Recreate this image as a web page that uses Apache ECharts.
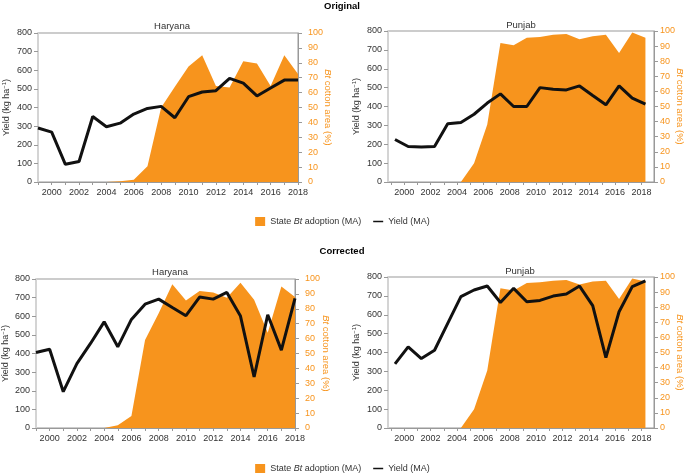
<!DOCTYPE html>
<html>
<head>
<meta charset="utf-8">
<script src="https://cdn.jsdelivr.net/npm/echarts@6/dist/echarts.min.js"></script>
<style>
  html, body { margin: 0; padding: 0; background: #fff; }
  #chart { width: 685px; height: 474px; }
</style>
</head>
<body>
<div id="chart"></div>
<script>
const years = [1999, 2000, 2001, 2002, 2003, 2004, 2005, 2006, 2007, 2008,
               2009, 2010, 2011, 2012, 2013, 2014, 2015, 2016, 2017, 2018];
const evenYears = [2000, 2002, 2004, 2006, 2008, 2010, 2012, 2014, 2016, 2018];

// Original
const harOrigYield = [290, 268, 95, 110, 352, 297, 316, 365, 395, 406, 345, 458, 483, 490, 556, 531, 462, 505, 547, 547];
const harOrigBt = [0, 0, 0, 0, 0, 0, 0.5, 1.5, 10.5, 50, 64, 77.5, 85, 64.5, 63.5, 81, 79.5, 64.5, 85, 72.5];
const punOrigYield = [225, 188, 185, 188, 308, 315, 359, 418, 467, 400, 400, 500, 491, 488, 509, 458, 409, 509, 444, 412];
const punOrigBt = [0, 0, 0, 0, 0, 0, 12.5, 38, 92, 90.5, 95.5, 96, 97.5, 98, 94.5, 96.5, 97.5, 85.5, 99, 95.5];

// Corrected
const harCorrYield = [405, 423, 195, 346, 454, 570, 436, 583, 665, 692, 647, 603, 703, 692, 728, 601, 274, 608, 418, 696];
const harCorrBt = [0, 0, 0, 0, 0, 0, 1.8, 8, 59, 77, 96.5, 85.5, 92, 91, 87.5, 97.5, 86, 64, 95, 88];
const punCorrYield = [340, 430, 368, 412, 554, 696, 731, 752, 665, 740, 669, 676, 699, 710, 752, 648, 373, 616, 749, 780];
const punCorrBt = [0, 0, 0, 0, 0, 0, 12.5, 38, 92.5, 91, 96, 96.5, 97.5, 98, 95, 97, 97.5, 85.5, 99, 97];

// Punjab values sit a little after the year tick
const punjabShift = 0.3;

const ORANGE = '#f7941d';
const FONT = 'Liberation Sans';

const grids = [
    { left: 38, top: 33, width: 260, height: 149 },
    { left: 388, top: 31, width: 266, height: 151 },
    { left: 36, top: 279, width: 259, height: 149 },
    { left: 388, top: 277, width: 266, height: 151 },
];
const xRanges = [[1999, 2018], [1998.77, 2018.95], [1999, 2018], [1998.77, 2018.95]];
const rightLabelMargin = [10, 6, 10, 6];
const rightNameGap = [25, 21, 26, 21];
const leftNameGap = [25, 25, 24, 25];

function pairs(vals, shift) {
    return years.map((y, i) => [y + shift, vals[i]]);
}

const chart = echarts.init(document.getElementById('chart'), null, { renderer: 'canvas' });

const xAxis = grids.map((g, i) => ({
    type: 'value',
    gridIndex: i,
    min: xRanges[i][0],
    max: xRanges[i][1],
    axisLine: { lineStyle: { color: '#999', width: 1 } },
    axisTick: { length: 3, lineStyle: { color: '#999' }, customValues: years },
    axisLabel: {
        customValues: evenYears,
        formatter: (v) => String(v),
        color: '#333', fontSize: 9, fontFamily: FONT, margin: 6,
    },
    splitLine: { show: false },
}));

const yAxis = [];
grids.forEach((g, i) => {
    yAxis.push({
        type: 'value',
        gridIndex: i,
        position: 'left',
        min: 0,
        max: 800,
        interval: 100,
        name: '{n|Yield (kg ha}{s|−1}{n|)}',
        nameLocation: 'middle',
        nameRotate: 90,
        nameGap: leftNameGap[i],
        nameMoveOverlap: false,
        nameTextStyle: {
            color: '#333',
            fontFamily: FONT,
            fontSize: 9,
            rich: {
                n: { fontSize: 9, lineHeight: 12, fontFamily: FONT, color: '#333' },
                s: { fontSize: 6, verticalAlign: 'top', fontFamily: FONT, color: '#333' },
            },
        },
        axisLine: { show: true, lineStyle: { color: '#d4d4d4', width: 2 } },
        axisTick: { show: true, length: 4, lineStyle: { color: '#999' } },
        axisLabel: { color: '#333', fontSize: 9, fontFamily: FONT, margin: 6 },
        splitLine: { show: false },
    });
    yAxis.push({
        type: 'value',
        gridIndex: i,
        position: 'right',
        min: 0,
        max: 100,
        interval: 10,
        name: '{i|Bt}{n| cotton area (%)}',
        nameLocation: 'middle',
        nameRotate: -90,
        nameGap: rightNameGap[i],
        nameMoveOverlap: false,
        nameTextStyle: {
            color: ORANGE,
            fontFamily: FONT,
            fontSize: 9.5,
            rich: {
                i: { fontSize: 9.5, fontStyle: 'italic', fontFamily: FONT, color: ORANGE },
                n: { fontSize: 9.5, fontFamily: FONT, color: ORANGE },
            },
        },
        axisLine: { show: true, lineStyle: { color: '#999', width: 1 } },
        axisTick: { show: true, length: 4, lineStyle: { color: '#999' } },
        axisLabel: { color: ORANGE, fontSize: 9, fontFamily: FONT, margin: rightLabelMargin[i] },
        splitLine: { show: false },
    });
});

const panels = [
    { bt: harOrigBt, yld: harOrigYield, shift: 0 },
    { bt: punOrigBt, yld: punOrigYield, shift: punjabShift },
    { bt: harCorrBt, yld: harCorrYield, shift: 0 },
    { bt: punCorrBt, yld: punCorrYield, shift: punjabShift },
];

const series = [];
panels.forEach((p, i) => {
    series.push({
        name: 'State Bt adoption (MA)',
        type: 'line',
        xAxisIndex: i,
        yAxisIndex: i * 2 + 1,
        data: pairs(p.bt, p.shift),
        symbol: 'none',
        lineStyle: { width: 0, color: ORANGE },
        itemStyle: { color: ORANGE },
        areaStyle: { color: ORANGE, opacity: 1 },
        z: 2,
        silent: true,
    });
    series.push({
        name: 'Yield (MA)',
        type: 'line',
        xAxisIndex: i,
        yAxisIndex: i * 2,
        data: pairs(p.yld, p.shift),
        symbol: 'none',
        lineStyle: { width: 3, color: '#111' },
        itemStyle: { color: '#111' },
        z: 3,
        silent: true,
    });
});

const legendBase = {
    left: 'center',
    itemWidth: 10,
    itemHeight: 9,
    itemGap: 12,
    selectedMode: false,
    data: [
        { name: 'State Bt adoption (MA)', icon: 'rect' },
        { name: 'Yield (MA)', icon: 'path://M0,0 L20,0 L20,3 L0,3 Z' },
    ],
    formatter: (name) => name === 'State Bt adoption (MA)'
        ? '{n|State }{i|Bt}{n| adoption (MA)}'
        : '{n|' + name + '}',
    textStyle: {
        color: '#333',
        fontSize: 9,
        fontFamily: FONT,
        rich: {
            n: { fontSize: 9, fontFamily: FONT, color: '#333' },
            i: { fontSize: 9, fontFamily: FONT, color: '#333', fontStyle: 'italic' },
        },
    },
};

const labelText = (x, y, text, bold) => ({
    type: 'text',
    x: x,
    y: y,
    style: {
        text: text,
        fill: bold ? '#000' : '#333',
        font: (bold ? 'bold ' : '') + '9.5px "Liberation Sans"',
        textAlign: 'center',
        textVerticalAlign: 'middle',
    },
});

const option = {
    animation: false,
    backgroundColor: '#fff',
    grid: grids.map(g => Object.assign({ show: true, borderColor: '#999', borderWidth: 1, outerBoundsMode: 'none' }, g)),
    xAxis: xAxis,
    yAxis: yAxis,
    series: series,
    legend: [
        Object.assign({ top: 212 }, legendBase),
        Object.assign({ top: 459 }, legendBase),
    ],
    graphic: [
        labelText(342, 6, 'Original', true),
        labelText(172, 26, 'Haryana', false),
        labelText(521, 25, 'Punjab', false),
        labelText(342, 251, 'Corrected', true),
        labelText(170, 272, 'Haryana', false),
        labelText(520, 271, 'Punjab', false),
    ],
};

chart.setOption(option);
</script>
</body>
</html>
